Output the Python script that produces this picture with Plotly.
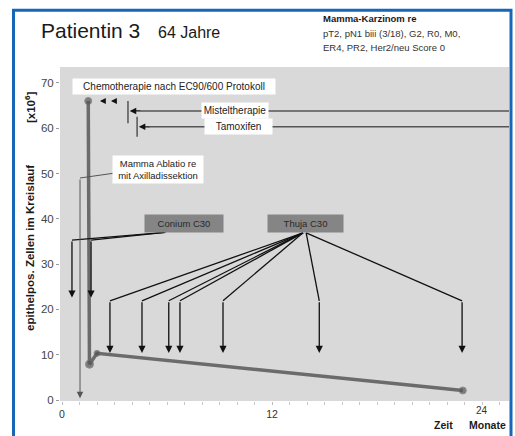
import plotly.graph_objects as go

# ---------------- data ----------------
months = [1.5, 1.57, 2.0, 22.9]
cells = [66.0, 7.9, 10.3, 2.1]
marker_sizes = [7, 8, 6, 7]

y_ticks = [0, 10, 20, 30, 40, 50, 60, 70]
x_ticks = [0, 12]
x_tick_text = ["0", "12"]

chemo_marks = [2.17, 2.8]
chemo_y = 66.0
mistel_start = 3.77
tamoxifen_start = 4.29
ablatio_month = 1.03

conium_months = [0.57, 1.66]
thuja_months = [2.74, 4.57, 6.1, 6.74, 9.2, 14.7, 22.86]

# ---------------- figure ----------------
FONT = "Liberation Sans, Arial, sans-serif"
X_MAX = 25.54
LINE_C = "#111111"

fig = go.Figure()
fig.add_trace(go.Scatter(
    x=months, y=cells, mode="lines+markers",
    line=dict(color="#6b6b6b", width=3.5),
    marker=dict(color="#555555", size=marker_sizes),
    showlegend=False, hoverinfo="skip"))

shapes = []
annos = []


def seg(x0, y0, x1, y1, color=LINE_C, width=1.3, dash="solid"):
    shapes.append(dict(type="line", xref="x", yref="y", x0=x0, y0=y0, x1=x1, y1=y1,
                       line=dict(color=color, width=width, dash=dash)))


def arrow(x, y, ax, ay, color=LINE_C, width=1.3, size=1.1):
    annos.append(dict(x=x, y=y, ax=ax, ay=ay, xref="x", yref="y", axref="x", ayref="y",
                      text="", showarrow=True, arrowhead=2, arrowsize=size,
                      arrowwidth=width, arrowcolor=color, standoff=0, startstandoff=0))


def label(x, y, text, size=10, bg="white", color="#222222", w=None, h=None, bold=False):
    d = dict(x=x, y=y, xref="x", yref="y", text=("<b>%s</b>" % text) if bold else text,
             showarrow=False, bgcolor=bg, borderpad=2,
             font=dict(family=FONT, size=size, color=color))
    if w:
        d["width"] = w
    if h:
        d["height"] = h
    annos.append(d)


# Chemotherapy
label(6.4, 69.1, "Chemotherapie nach EC90/600 Protokoll", size=10, w=198)
for m in chemo_marks:
    arrow(m, chemo_y, m + 0.38, chemo_y, size=0.9)

# Misteltherapie
seg(mistel_start, 66.0, mistel_start, 61.1, color="#333333", width=1.2)
seg(mistel_start + 0.7, 63.8, X_MAX, 63.8, color="#555555", width=1.5)
arrow(mistel_start + 0.1, 63.8, mistel_start + 0.8, 63.8, size=1.0)
label(9.9, 63.8, "Misteltherapie", size=10, w=62)

# Tamoxifen
seg(tamoxifen_start, 62.5, tamoxifen_start, 58.1, color="#333333", width=1.2)
seg(tamoxifen_start + 0.7, 60.3, X_MAX, 60.3, color="#555555", width=1.5)
arrow(tamoxifen_start + 0.1, 60.3, tamoxifen_start + 0.8, 60.3, size=1.0)
label(10.06, 60.3, "Tamoxifen", size=10, w=63)

# Mamma Ablatio
seg(3.03, 50.1, ablatio_month, 49.0, color="#555555", width=1.0)
arrow(ablatio_month, 0.4, ablatio_month, 49.0, color="#555555", width=1.0, size=1.3)
label(5.49, 50.8, "Mamma Ablatio re<br>mit Axilladissektion", size=9.5, w=86)

# Conium C30
for m in conium_months:
    seg(5.9, 37.0, m, 35.3)
    arrow(m, 22.6, m, 35.3)
label(6.97, 38.9, "Conium C30", size=9.5, bg="#858585", color="#2a2a2a", w=74, h=13)

# Thuja C30
for m in thuja_months:
    ox = 13.77 if m < 14 else 13.95
    seg(ox, 36.9, m, 21.9)
    arrow(m, 10.4, m, 21.9)
label(13.94, 38.9, "Thuja C30", size=9.5, bg="#858585", color="#2a2a2a", w=71, h=13)

# ---------------- outside texts (paper coords) ----------------
L, R, T, B = 60, 509, 67, 401
PW, PH = R - L, B - T


def px(xp):
    return (xp - L) / PW


def py(yp):
    return (B - yp) / PH


def ptext(xp, yp, text, size, bold=False, xanchor="left", color="#1a1a1a", angle=0):
    annos.append(dict(x=px(xp), y=py(yp), xref="paper", yref="paper",
                      text=("<b>%s</b>" % text) if bold else text, showarrow=False,
                      xanchor=xanchor, yanchor="middle", textangle=angle,
                      font=dict(family=FONT, size=size, color=color)))


ptext(39, 30, "Patientin 3", 21)
ptext(156, 32, "64 Jahre", 16)
ptext(321, 19, "Mamma-Karzinom re", 9.5, bold=True)
ptext(321, 34, "pT2, pN1 biii (3/18), G2, R0, M0,", 9.5, color="#333333")
ptext(321, 48, "ER4, PR2, Her2/neu Score 0", 9.5, color="#333333")

ptext(30, 248, "epithelpos. Zellen im Kreislauf", 11.5, bold=True, xanchor="center", angle=-90)
ptext(30, 107, "[x10<sup>6</sup>]", 11.5, bold=True, xanchor="center", angle=-90)

ptext(482, 410, "24", 10, xanchor="center", color="#333333")
ptext(443, 425, "Zeit", 10.5, bold=True, xanchor="center")
ptext(487, 425, "Monate", 10.5, bold=True, xanchor="center")

# Blue frame
shapes.append(dict(type="rect", xref="paper", yref="paper",
                   x0=px(13.5), x1=px(511), y0=py(10.3), y1=py(450),
                   line=dict(color="#1667b8", width=3), fillcolor="rgba(0,0,0,0)"))

fig.update_layout(
    width=515, height=436,
    margin=dict(l=L, r=515 - R, t=T, b=436 - B),
    paper_bgcolor="white", plot_bgcolor="#d9d9d9",
    shapes=shapes, annotations=annos,
    font=dict(family=FONT, size=11, color="#333333"),
    xaxis=dict(range=[-0.114, X_MAX], tickvals=x_ticks, ticktext=x_tick_text,
               showgrid=False, zeroline=False, showline=False,
               ticks="outside", ticklen=3, tickcolor="#bbbbbb",
               minor=dict(dtick=1, ticks="outside", ticklen=3, tickcolor="#c8c8c8"),
               tickfont=dict(size=10.5, color="#333333")),
    yaxis=dict(range=[-0.22, 73.5], tickvals=y_ticks, showgrid=False, zeroline=False,
               showline=False, ticks="outside", ticklen=3, tickcolor="#999999",
               tickfont=dict(size=11.5, color="#444444")),
)

fig.write_html("out.html", config={"displayModeBar": False},
               post_script="document.body.style.margin='0';document.body.style.overflow='hidden';")
